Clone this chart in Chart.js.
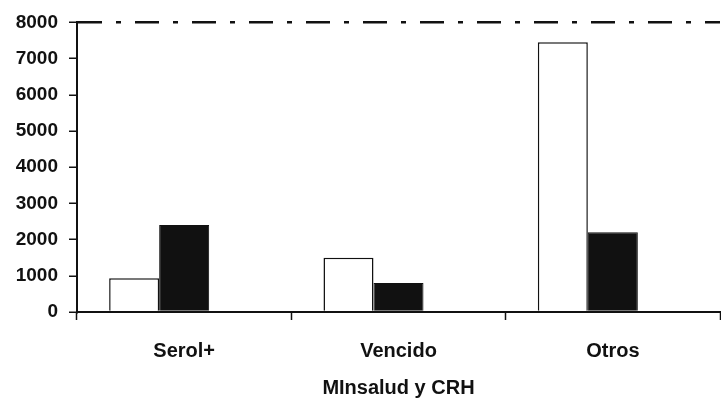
<!DOCTYPE html>
<html>
<head>
<meta charset="utf-8">
<script src="https://cdn.jsdelivr.net/npm/chart.js@4"></script>
<style>
  html, body { margin: 0; padding: 0; background: #fff; }
  #wrap { width: 721px; height: 401px; }
</style>
</head>
<body>
<div id="wrap"><canvas id="chart"></canvas></div>
<script>
// Data
const categories = ["Serol+", "Vencido", "Otros"];
const whiteValues = [930, 1500, 7450];
const blackValues = [2400, 800, 2200];
const emptySlot = [null, null, null];
const yTicks = [0, 1000, 2000, 3000, 4000, 5000, 6000, 7000, 8000];
const xTitle = "MInsalud y CRH";

const font = { family: "'Liberation Sans', Arial, sans-serif", weight: "bold" };

const ctx = document.getElementById('chart').getContext('2d');
const chart = new Chart(ctx, {
    type: 'bar',
    data: {
        labels: categories,
        datasets: [
            {
                data: whiteValues,
                backgroundColor: '#ffffff',
                borderColor: '#111111',
                borderWidth: 1.5
            },
            {
                data: blackValues,
                backgroundColor: '#111111',
                borderColor: '#111111',
                borderWidth: 1
            },
            {
                // empty slot keeps the pair left of the category centre, like the original
                data: emptySlot,
                backgroundColor: 'transparent'
            }
        ]
    },
    options: {
        responsive: true,
        maintainAspectRatio: false,
        animation: false,
        datasets: {
            bar: { categoryPercentage: 0.7, barPercentage: 1 }
        },
        layout: { padding: { top: 9, right: 1, bottom: 0, left: 0 } },
        plugins: {
            legend: { display: false },
            tooltip: { enabled: false }
        },
        scales: {
            x: {
                grid: {
                    offset: true,
                    drawOnChartArea: false,
                    drawTicks: true,
                    tickLength: 8,
                    tickColor: '#111111',
                    tickWidth: 1.5
                },
                border: { color: '#111111', width: 2 },
                ticks: {
                    color: '#111111',
                    padding: 19,
                    font: { ...font, size: 20 }
                },
                title: {
                    display: true,
                    text: xTitle,
                    color: '#111111',
                    padding: { top: 4, bottom: 1 },
                    font: { ...font, size: 20 }
                },
                afterFit: (scale) => { scale.height = 89; }
            },
            y: {
                min: 0,
                max: 8000,
                afterBuildTicks: (scale) => {
                    scale.ticks = yTicks.map(v => ({ value: v }));
                },
                grid: {
                    color: (c) => (c.tick && c.tick.value === 8000 ? '#111111' : 'transparent'),
                    lineWidth: 2.5,
                    drawTicks: true,
                    tickLength: 8,
                    tickColor: '#111111',
                    tickWidth: 1.5
                },
                border: { color: '#111111', width: 2, dash: [24, 14, 5, 14] },
                ticks: {
                    color: '#111111',
                    padding: 11,
                    font: { ...font, size: 19 },
                    callback: (value) => String(value)
                },
                afterFit: (scale) => { scale.width = 77; }
            }
        }
    }
});
</script>
</body>
</html>
